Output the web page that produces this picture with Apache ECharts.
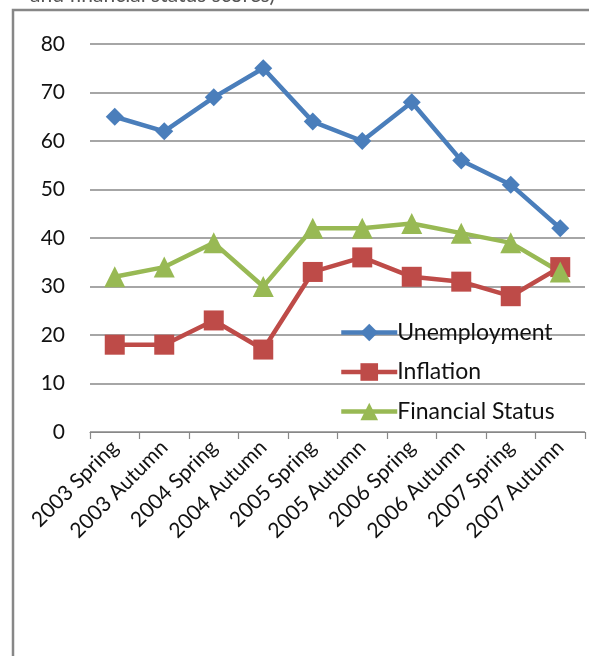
<!DOCTYPE html>
<html>
<head>
<meta charset="utf-8">
<script src="https://cdn.jsdelivr.net/npm/echarts@6/dist/echarts.min.js"></script>
<style>
  html, body { margin: 0; padding: 0; background: #fff; }
  #chart { width: 590px; height: 656px; }
</style>
</head>
<body>
<div id="chart"></div>
<script>
// Survey waves along the horizontal axis
const waves = ['2003 Spring', '2003 Autumn', '2004 Spring', '2004 Autumn', '2005 Spring',
               '2005 Autumn', '2006 Spring', '2006 Autumn', '2007 Spring', '2007 Autumn'];

// Scores per wave
const unemployment = [65, 62, 69, 75, 64, 60, 68, 56, 51, 42];
const inflation = [18, 18, 23, 17, 33, 36, 32, 31, 28, 34];
const financialStatus = [32, 34, 39, 30, 42, 42, 43, 41, 39, 33];

// Value axis range
const yMin = 0, yMax = 80, yStep = 10;

const FONT = 'Lato, "Open Sans", sans-serif';

const chart = echarts.init(document.getElementById('chart'), null, { renderer: 'canvas' });

function lineSeries(name, data, color, symbol, size) {
  return {
    name: name,
    type: 'line',
    data: data,
    symbol: symbol,
    symbolSize: size,
    showSymbol: true,
    lineStyle: { color: color, width: 4.5 },
    itemStyle: { color: color, borderWidth: 0 },
    emphasis: { disabled: true },
    z: 3
  };
}

chart.setOption({
  animation: false,
  backgroundColor: '#ffffff',
  graphic: [
    {
      type: 'text',
      left: 30,
      top: -15,
      style: {
        text: 'and financial status scores)',
        font: '21px ' + FONT,
        fill: '#555'
      }
    },
    {
      type: 'polyline',
      shape: { points: [[13, 656], [13, 10], [589, 10]] },
      style: { stroke: '#878787', lineWidth: 2.5, fill: null }
    }
  ],
  grid: { left: 90, right: 5, top: 44, bottom: 224, containLabel: false },
  legend: {
    orient: 'vertical',
    left: 334,
    top: 316,
    itemWidth: 56,
    itemHeight: 22,
    itemGap: 16.5,
    lineStyle: { width: 4.5 },
    textStyle: { fontFamily: FONT, fontSize: 23, lineHeight: 22, color: '#111', padding: [0, 0, 0, -5] },
    data: ['Unemployment', 'Inflation', 'Financial Status']
  },
  xAxis: {
    type: 'category',
    data: waves,
    boundaryGap: true,
    axisLine: { show: true, lineStyle: { color: '#888', width: 1.2 } },
    axisTick: { show: true, length: 7, inside: false, lineStyle: { color: '#888', width: 1.2 } },
    axisLabel: { rotate: 45, fontFamily: FONT, fontSize: 21, color: '#111', margin: 12, interval: 0 },
    splitLine: { show: false }
  },
  yAxis: {
    type: 'value',
    min: yMin,
    max: yMax,
    interval: yStep,
    axisLine: { show: false },
    axisTick: { show: false },
    axisLabel: { fontFamily: FONT, fontSize: 21, color: '#111', margin: 25 },
    splitLine: { show: true, lineStyle: { color: '#888', width: 1.5 } }
  },
  series: [
    lineSeries('Unemployment', unemployment, '#4a7ebb', 'diamond', 18),
    lineSeries('Inflation', inflation, '#be4b48', 'rect', 20),
    lineSeries('Financial Status', financialStatus, '#98b954', 'triangle', 21)
  ]
});
</script>
</body>
</html>
